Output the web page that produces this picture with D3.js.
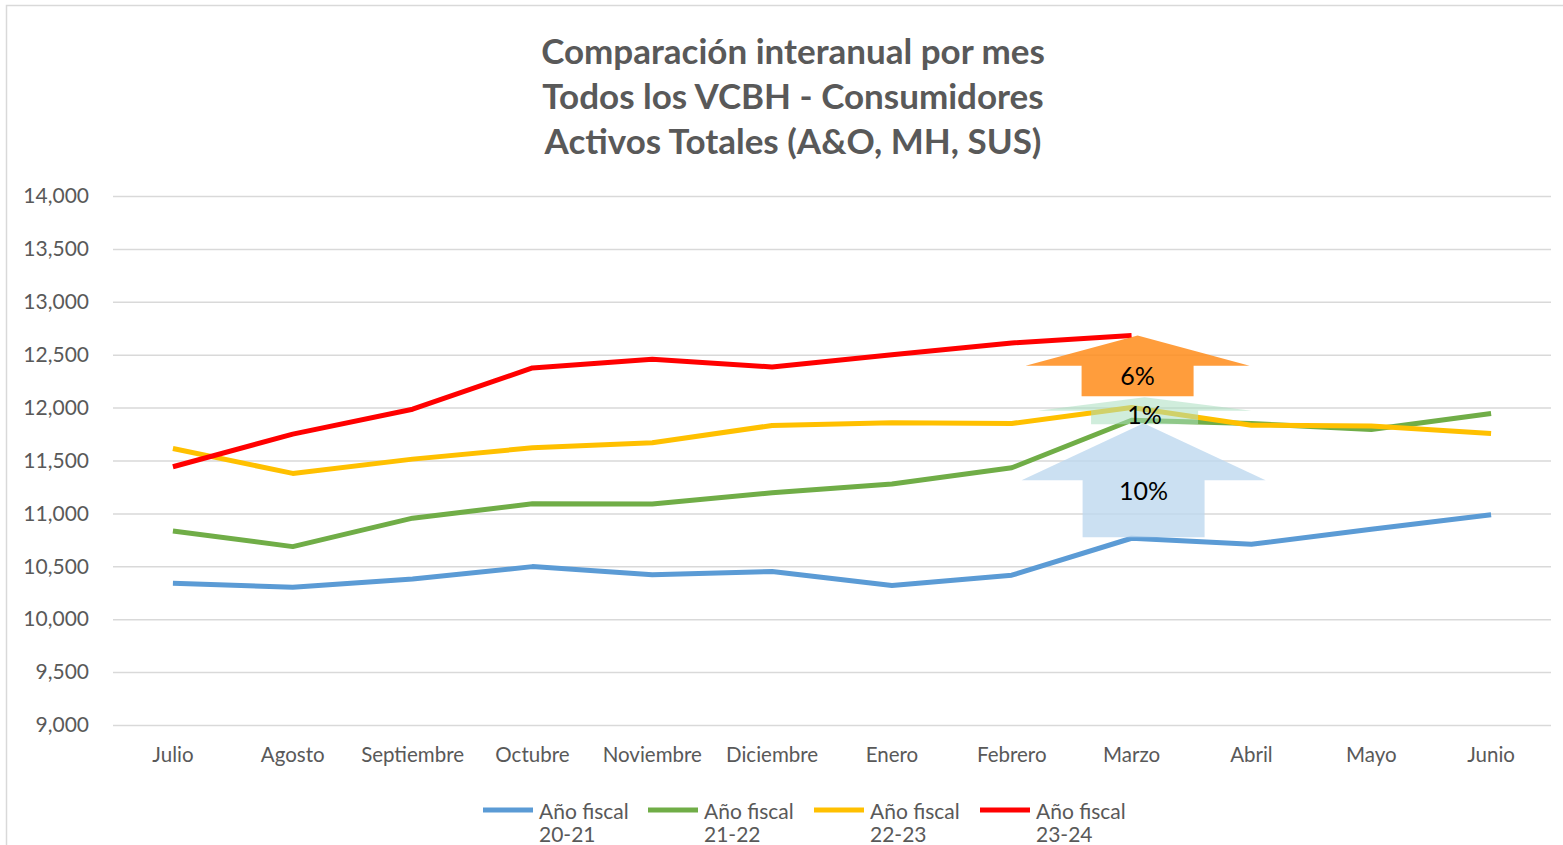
<!DOCTYPE html>
<html>
<head>
<meta charset="utf-8">
<script src="https://cdn.jsdelivr.net/npm/d3@7"></script>
<style>
  body { margin: 0; background: #fff; }
  svg text { font-family: Lato, "Open Sans", sans-serif; fill: #595959; }
</style>
</head>
<body>
<svg id="chart"></svg>
<script>
const width = 1563
const height = 845

// data
const months = ['Julio', 'Agosto', 'Septiembre', 'Octubre', 'Noviembre', 'Diciembre',
    'Enero', 'Febrero', 'Marzo', 'Abril', 'Mayo', 'Junio'];
const fy2021 = [10340, 10302, 10380, 10497, 10421, 10450, 10318, 10416, 10765, 10708, 10850, 10987];
const fy2122 = [10834, 10686, 10955, 11091, 11089, 11195, 11277, 11431, 11880, 11850, 11793, 11944];
const fy2223 = [11614, 11378, 11513, 11620, 11667, 11831, 11856, 11850, 12001, 11834, 11825, 11756];
const fy2324 = [11441, 11749, 11985, 12375, 12457, 12384, 12500, 12611, 12681];
const seriesNames = ['Año fiscal 20-21', 'Año fiscal 21-22', 'Año fiscal 22-23', 'Año fiscal 23-24'];
const seriesColors = ['#5B9BD5', '#70AD47', '#FFC000', '#FF0000'];
const yTicks = [9000, 9500, 10000, 10500, 11000, 11500, 12000, 12500, 13000, 13500, 14000];
const titleLines = ['Comparación interanual por mes', 'Todos los VCBH - Consumidores', 'Activos Totales (A&O, MH, SUS)'];

// growth arrows at Marzo: label, from value, to value
const arrowLabels = ['10%', '1%', '6%'];
const arrowFrom = [10775, 11843, 12108];
const arrowTo = [11853, 12098, 12681];
const arrowColors = ['rgba(189,215,238,0.78)', 'rgba(169,223,191,0.55)', 'rgba(255,140,26,0.85)'];
const arrowHalfWidth = [122, 107, 112];

const margin = { top: 196, right: 12, bottom: 120, left: 113 };
const innerW = width - margin.left - margin.right;
const innerH = height - margin.top - margin.bottom;

var svg = d3.select('#chart')
    .attr('width', width)
    .attr('height', height);

// outer frame
svg.append('rect')
    .attr('x', 6.5).attr('y', 5.5)
    .attr('width', width).attr('height', height)
    .attr('fill', 'none')
    .attr('stroke', '#D9D9D9')
    .attr('stroke-width', 1.5);

// title
svg.append('text')
    .attr('text-anchor', 'middle')
    .style('font-size', '35px')
    .style('font-weight', 'bold')
    .selectAll('tspan')
    .data(titleLines)
    .enter()
    .append('tspan')
    .attr('x', 793)
    .attr('y', (d, i) => 64 + i * 45)
    .text(d => d);

var g = svg.append('g').attr('transform', `translate(${margin.left},${margin.top})`);

var x = d3.scaleBand().domain(months).range([0, innerW]);
var y = d3.scaleLinear().domain([9000, 14000]).range([innerH, 0]);
var cx = m => x(m) + x.bandwidth() / 2;

// gridlines
g.append('g')
    .call(d3.axisLeft(y).tickValues(yTicks).tickSize(-innerW).tickFormat(''))
    .call(s => s.select('.domain').remove())
    .selectAll('line')
    .attr('stroke', '#D9D9D9')
    .attr('stroke-width', 1.5);

// y labels
g.append('g')
    .call(d3.axisLeft(y).tickValues(yTicks).tickSize(0).tickPadding(24).tickFormat(d3.format(',')))
    .call(s => s.select('.domain').remove())
    .selectAll('text')
    .style('font-size', '21px')
    .attr('fill', '#595959');

// x labels
g.append('g')
    .attr('transform', `translate(0,${innerH})`)
    .call(d3.axisBottom(x).tickSize(0).tickPadding(22))
    .call(s => s.select('.domain').remove())
    .selectAll('text')
    .style('font-size', '20.5px')
    .attr('fill', '#595959');

// lines
var series = [fy2021, fy2122, fy2223, fy2324];
var line = d3.line()
    .x((d, i) => cx(months[i]))
    .y(d => y(d));

g.selectAll('path.series')
    .data(series)
    .enter()
    .append('path')
    .attr('class', 'series')
    .attr('d', d => line(d))
    .attr('fill', 'none')
    .attr('stroke', (d, i) => seriesColors[i])
    .attr('stroke-width', 5)
    .attr('stroke-linejoin', 'round');

// arrows over Marzo (slightly right of the category centre, as in the original)
var arrowShift = [12, 13, 6];
var labelLift = [37, 0, 11];
arrowLabels.forEach((label, i) => {
    var ax = cx('Marzo') + arrowShift[i];
    var y0 = y(arrowFrom[i]);
    var y1 = y(arrowTo[i]);
    var mid = (y0 + y1) / 2;
    var hw = arrowHalfWidth[i];
    var sw = hw / 2;
    var pts = [
        [ax, y1], [ax + hw, mid], [ax + sw, mid], [ax + sw, y0],
        [ax - sw, y0], [ax - sw, mid], [ax - hw, mid]
    ];
    g.append('path')
        .attr('d', d3.line()(pts) + 'Z')
        .attr('fill', arrowColors[i]);
    g.append('text')
        .attr('x', ax)
        .attr('y', y0 - labelLift[i])
        .attr('text-anchor', 'middle')
        .style('font-size', '25px')
        .style('fill', '#000')
        .text(label);
});

// legend
var legendX = [483, 648, 814, 980];
var legend = svg.append('g');
seriesNames.forEach((name, i) => {
    legend.append('line')
        .attr('x1', legendX[i]).attr('x2', legendX[i] + 50)
        .attr('y1', 810).attr('y2', 810)
        .attr('stroke', seriesColors[i])
        .attr('stroke-width', 5);
    var parts = name.split(' ');
    legend.append('text')
        .style('font-size', '21px')
        .selectAll('tspan')
        .data([parts[0] + ' ' + parts[1], parts[2]])
        .enter()
        .append('tspan')
        .attr('x', legendX[i] + 56)
        .attr('y', (d, j) => 819 + j * 23)
        .text(d => d);
});
</script>
</body>
</html>
